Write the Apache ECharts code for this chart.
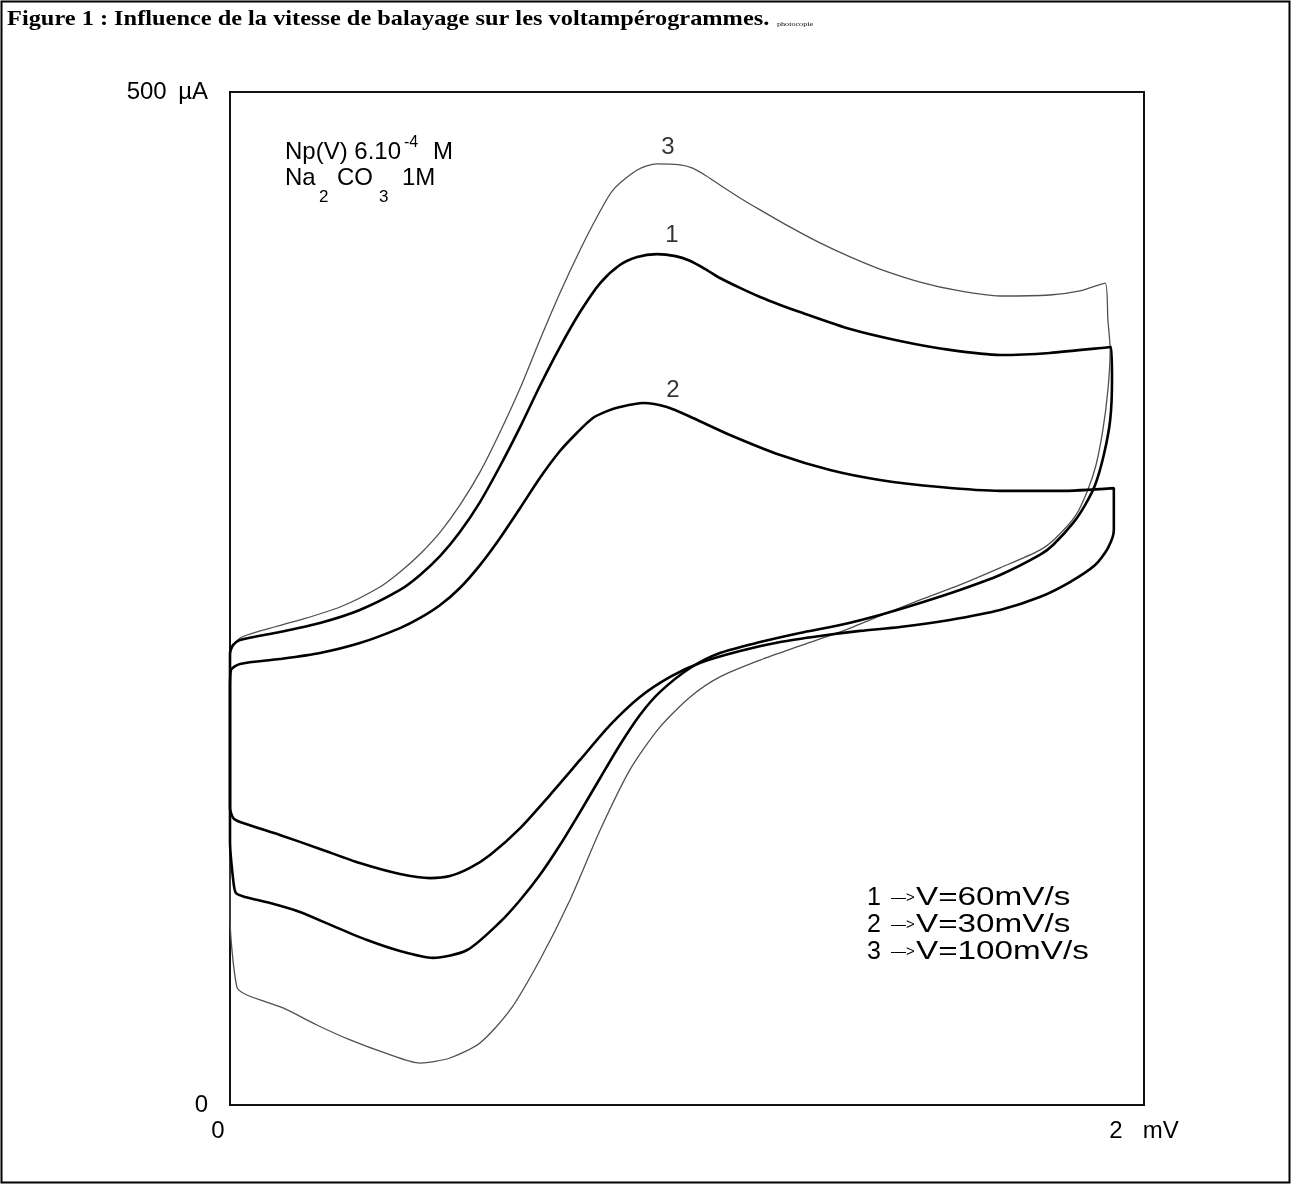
<!DOCTYPE html>
<html><head><meta charset="utf-8">
<script src="https://cdn.jsdelivr.net/npm/echarts/dist/echarts.min.js"></script>
<style>html,body{margin:0;padding:0;background:#fff}#c{width:1292px;height:1185px}</style>
</head><body><div id="c"></div>
<script>
// potential (mV) , current (µA) — closed voltammogram loops
const curve1 = [
[0.000,223.6],[0.007,227.1],[0.022,229.5],[0.109,233.5],[0.197,237.9],[0.284,244.3],[0.372,254.2],[0.416,261.6],[0.460,271.0],[0.503,282.8],[0.547,297.6],[0.591,315.4],[0.635,334.7],[0.678,354.9],[0.722,374.1],[0.766,391.4],[0.810,405.7],[0.853,414.6],[0.891,418.6],[0.934,420.0],[0.975,419.0],[1.005,416.8],[1.040,412.6],[1.072,408.2],[1.116,403.3],[1.160,398.8],[1.204,394.9],[1.247,391.4],[1.357,383.0],[1.466,377.1],[1.575,372.7],[1.685,370.2],[1.794,371.2],[1.928,374.1],
[1.930,357.8],[1.926,338.1],[1.912,320.8],[1.893,306.0],[1.871,296.1],[1.845,287.3],[1.801,276.4],[1.772,271.5],[1.685,261.6],[1.597,254.2],[1.510,247.8],[1.422,241.9],[1.335,236.9],[1.247,233.0],[1.160,228.5],[1.072,223.1],[1.007,215.7],[0.941,203.9],[0.897,192.5],[0.853,177.7],[0.810,161.4],[0.766,144.6],[0.722,128.3],[0.678,113.5],[0.635,101.2],[0.591,90.3],[0.519,76.5],[0.444,72.6],[0.372,76.0],[0.300,81.4],[0.225,88.4],[0.153,95.3],[0.088,99.7],[0.033,102.7],[0.013,104.6],[0.007,111.1],[0.000,130.0],[0.000,223.6]
];
const curve2 = [
[0.000,205.8],[0.002,214.7],[0.022,217.7],[0.109,220.1],[0.197,223.1],[0.284,228.0],[0.372,235.4],[0.416,240.4],[0.460,246.8],[0.503,255.2],[0.547,266.5],[0.591,279.9],[0.635,294.7],[0.678,309.5],[0.722,322.8],[0.761,332.2],[0.794,339.1],[0.825,342.5],[0.853,344.5],[0.904,346.5],[0.956,344.5],[1.013,339.1],[1.094,330.7],[1.204,320.8],[1.313,313.4],[1.422,308.5],[1.554,305.0],[1.685,303.1],[1.816,303.1],[1.934,304.5],
[1.934,283.8],[1.921,274.9],[1.893,266.5],[1.838,258.1],[1.772,250.7],[1.685,244.3],[1.575,239.4],[1.466,235.9],[1.379,234.0],[1.291,231.5],[1.204,228.5],[1.116,224.1],[1.028,218.2],[0.963,211.3],[0.897,201.4],[0.832,187.6],[0.766,170.3],[0.700,153.0],[0.635,136.7],[0.569,123.4],[0.525,117.0],[0.481,113.0],[0.438,112.0],[0.372,114.0],[0.284,119.4],[0.197,126.4],[0.109,133.3],[0.022,139.7],[0.007,141.7],[0.000,146.6],[0.000,205.8]
];
const curve3 = [
[0.000,219.6],[0.004,225.6],[0.022,230.5],[0.066,234.0],[0.153,239.4],[0.241,245.8],[0.328,255.7],[0.372,263.1],[0.416,272.0],[0.460,282.8],[0.503,296.1],[0.547,312.4],[0.591,332.2],[0.635,353.9],[0.678,377.6],[0.722,400.8],[0.766,422.0],[0.803,438.3],[0.838,451.6],[0.891,461.5],[0.934,464.5],[0.985,464.0],[1.011,462.5],[1.039,459.0],[1.072,454.1],[1.116,447.7],[1.160,441.8],[1.225,433.4],[1.291,425.5],[1.357,418.6],[1.422,412.6],[1.510,406.2],[1.597,401.8],[1.685,399.3],[1.794,399.8],[1.860,401.8],[1.915,405.7],
[1.921,387.5],[1.926,372.7],[1.921,352.9],[1.910,333.2],[1.895,315.9],[1.877,303.6],[1.851,291.2],[1.807,279.9],[1.772,273.9],[1.685,265.1],[1.597,256.7],[1.510,249.3],[1.422,241.4],[1.335,233.5],[1.247,226.6],[1.160,219.6],[1.072,211.3],[1.007,201.4],[0.941,186.6],[0.875,165.4],[0.810,135.7],[0.744,101.2],[0.678,71.6],[0.613,46.9],[0.547,30.6],[0.481,23.2],[0.416,20.7],[0.339,25.7],[0.263,32.1],[0.190,39.5],[0.116,47.9],[0.037,54.3],[0.015,58.2],[0.000,93.8],[0.000,219.6]
];
// curve number labels placed above each anodic peak
const peakLabels = [
  {name:'3', value:[0.958, 472.9]},
  {name:'1', value:[0.967, 429.4]},
  {name:'2', value:[0.969, 352.9]}
];
const xTicks = {0:'0', 2:'2   mV'};
const yTicks = {0:'0', 500:'500 \u2009µA'};
const legendLines = [
  ['1','V=60mV/s'],
  ['2','V=30mV/s'],
  ['3','V=100mV/s']
];

const chart = echarts.init(document.getElementById('c'));
const FF = '"Liberation Sans", Arial, sans-serif';
const graphics = [
  {type:'rect', shape:{x:1.5,y:1.5,width:1288,height:1181}, style:{fill:'none', stroke:'#000', lineWidth:2}, silent:true},
  {type:'text', x:7, y:9, scaleX:1.16, style:{text:'Figure 1 : Influence de la vitesse de balayage sur les voltampérogrammes.', fontFamily:'"Liberation Serif", "Times New Roman", serif', fontWeight:'bold', fontSize:21, fill:'#000', verticalAlign:'top'}},
  {type:'text', x:777, y:28, scaleX:1.16, style:{text:'photocopie', fontFamily:'"Liberation Serif", serif', fontSize:7, fill:'#000', verticalAlign:'bottom'}},
  {type:'text', x:285, y:152, style:{text:'Np(V) 6.10', fontFamily:FF, fontSize:24, fill:'#000', verticalAlign:'middle'}},
  {type:'text', x:404, y:143, style:{text:'-4', fontFamily:FF, fontSize:16, fill:'#000', verticalAlign:'middle'}},
  {type:'text', x:433, y:152, style:{text:'M', fontFamily:FF, fontSize:24, fill:'#000', verticalAlign:'middle'}},
  {type:'text', x:285, y:178, style:{text:'Na', fontFamily:FF, fontSize:24, fill:'#000', verticalAlign:'middle'}},
  {type:'text', x:319, y:197, style:{text:'2', fontFamily:FF, fontSize:17, fill:'#000', verticalAlign:'middle'}},
  {type:'text', x:337, y:178, style:{text:'CO', fontFamily:FF, fontSize:24, fill:'#000', verticalAlign:'middle'}},
  {type:'text', x:379, y:197, style:{text:'3', fontFamily:FF, fontSize:17, fill:'#000', verticalAlign:'middle'}},
  {type:'text', x:402, y:178, style:{text:'1M', fontFamily:FF, fontSize:24, fill:'#000', verticalAlign:'middle'}}
];
legendLines.forEach((l,i)=>{
  const y = 898 + i*27;
  graphics.push({type:'text', x:867, y:y, style:{text:l[0], fontFamily:FF, fontSize:25, fill:'#000', verticalAlign:'middle'}});
  graphics.push({type:'text', x:891, y:y, style:{text:'—>', fontFamily:FF, fontSize:15, fill:'#000', verticalAlign:'middle'}});
  graphics.push({type:'text', x:916, y:y, scaleX:1.33, style:{text:l[1], fontFamily:FF, fontSize:25, fill:'#000', verticalAlign:'middle'}});
});

const option = {
  animation:false,
  backgroundColor:'#fff',
  grid:{left:230, top:92, width:914, height:1013, show:true, borderColor:'#111', borderWidth:2, backgroundColor:'transparent'},
  xAxis:{type:'value', min:0, max:2, interval:2,
    axisLine:{show:true, lineStyle:{color:'#111', width:2}}, axisTick:{show:false}, splitLine:{show:false},
    axisLabel:{margin:14, fontFamily:FF, fontSize:24, color:'#000',
      formatter:v=> v===0 ? '{z|'+xTicks[0]+'}' : xTicks[v],
      rich:{z:{fontFamily:FF, fontSize:24, color:'#000', padding:[0,24,0,0]}}}},
  yAxis:{type:'value', min:0, max:500, interval:500,
    axisLine:{show:true, lineStyle:{color:'#111', width:2}}, axisTick:{show:false}, splitLine:{show:false},
    axisLabel:{margin:22, fontFamily:FF, fontSize:24, color:'#000', formatter:v=>yTicks[v]}},
  series:[
    {type:'line', name:'3', data:curve3, showSymbol:false, smooth:0.25, clip:false, lineStyle:{color:'#505050', width:1.3}, z:3},
    {type:'line', name:'1', data:curve1, showSymbol:false, smooth:0.25, clip:false, lineStyle:{color:'#000', width:2.6}, z:4},
    {type:'line', name:'2', data:curve2, showSymbol:false, smooth:0.25, clip:false, lineStyle:{color:'#000', width:2.6}, z:4},
    {type:'scatter', data:peakLabels, symbolSize:1, itemStyle:{color:'transparent'},
      label:{show:true, position:'inside', formatter:'{b}', fontFamily:FF, fontSize:24, color:'#000'}, z:5}
  ],
  graphic:graphics
};
chart.setOption(option);
</script>
</body></html>
